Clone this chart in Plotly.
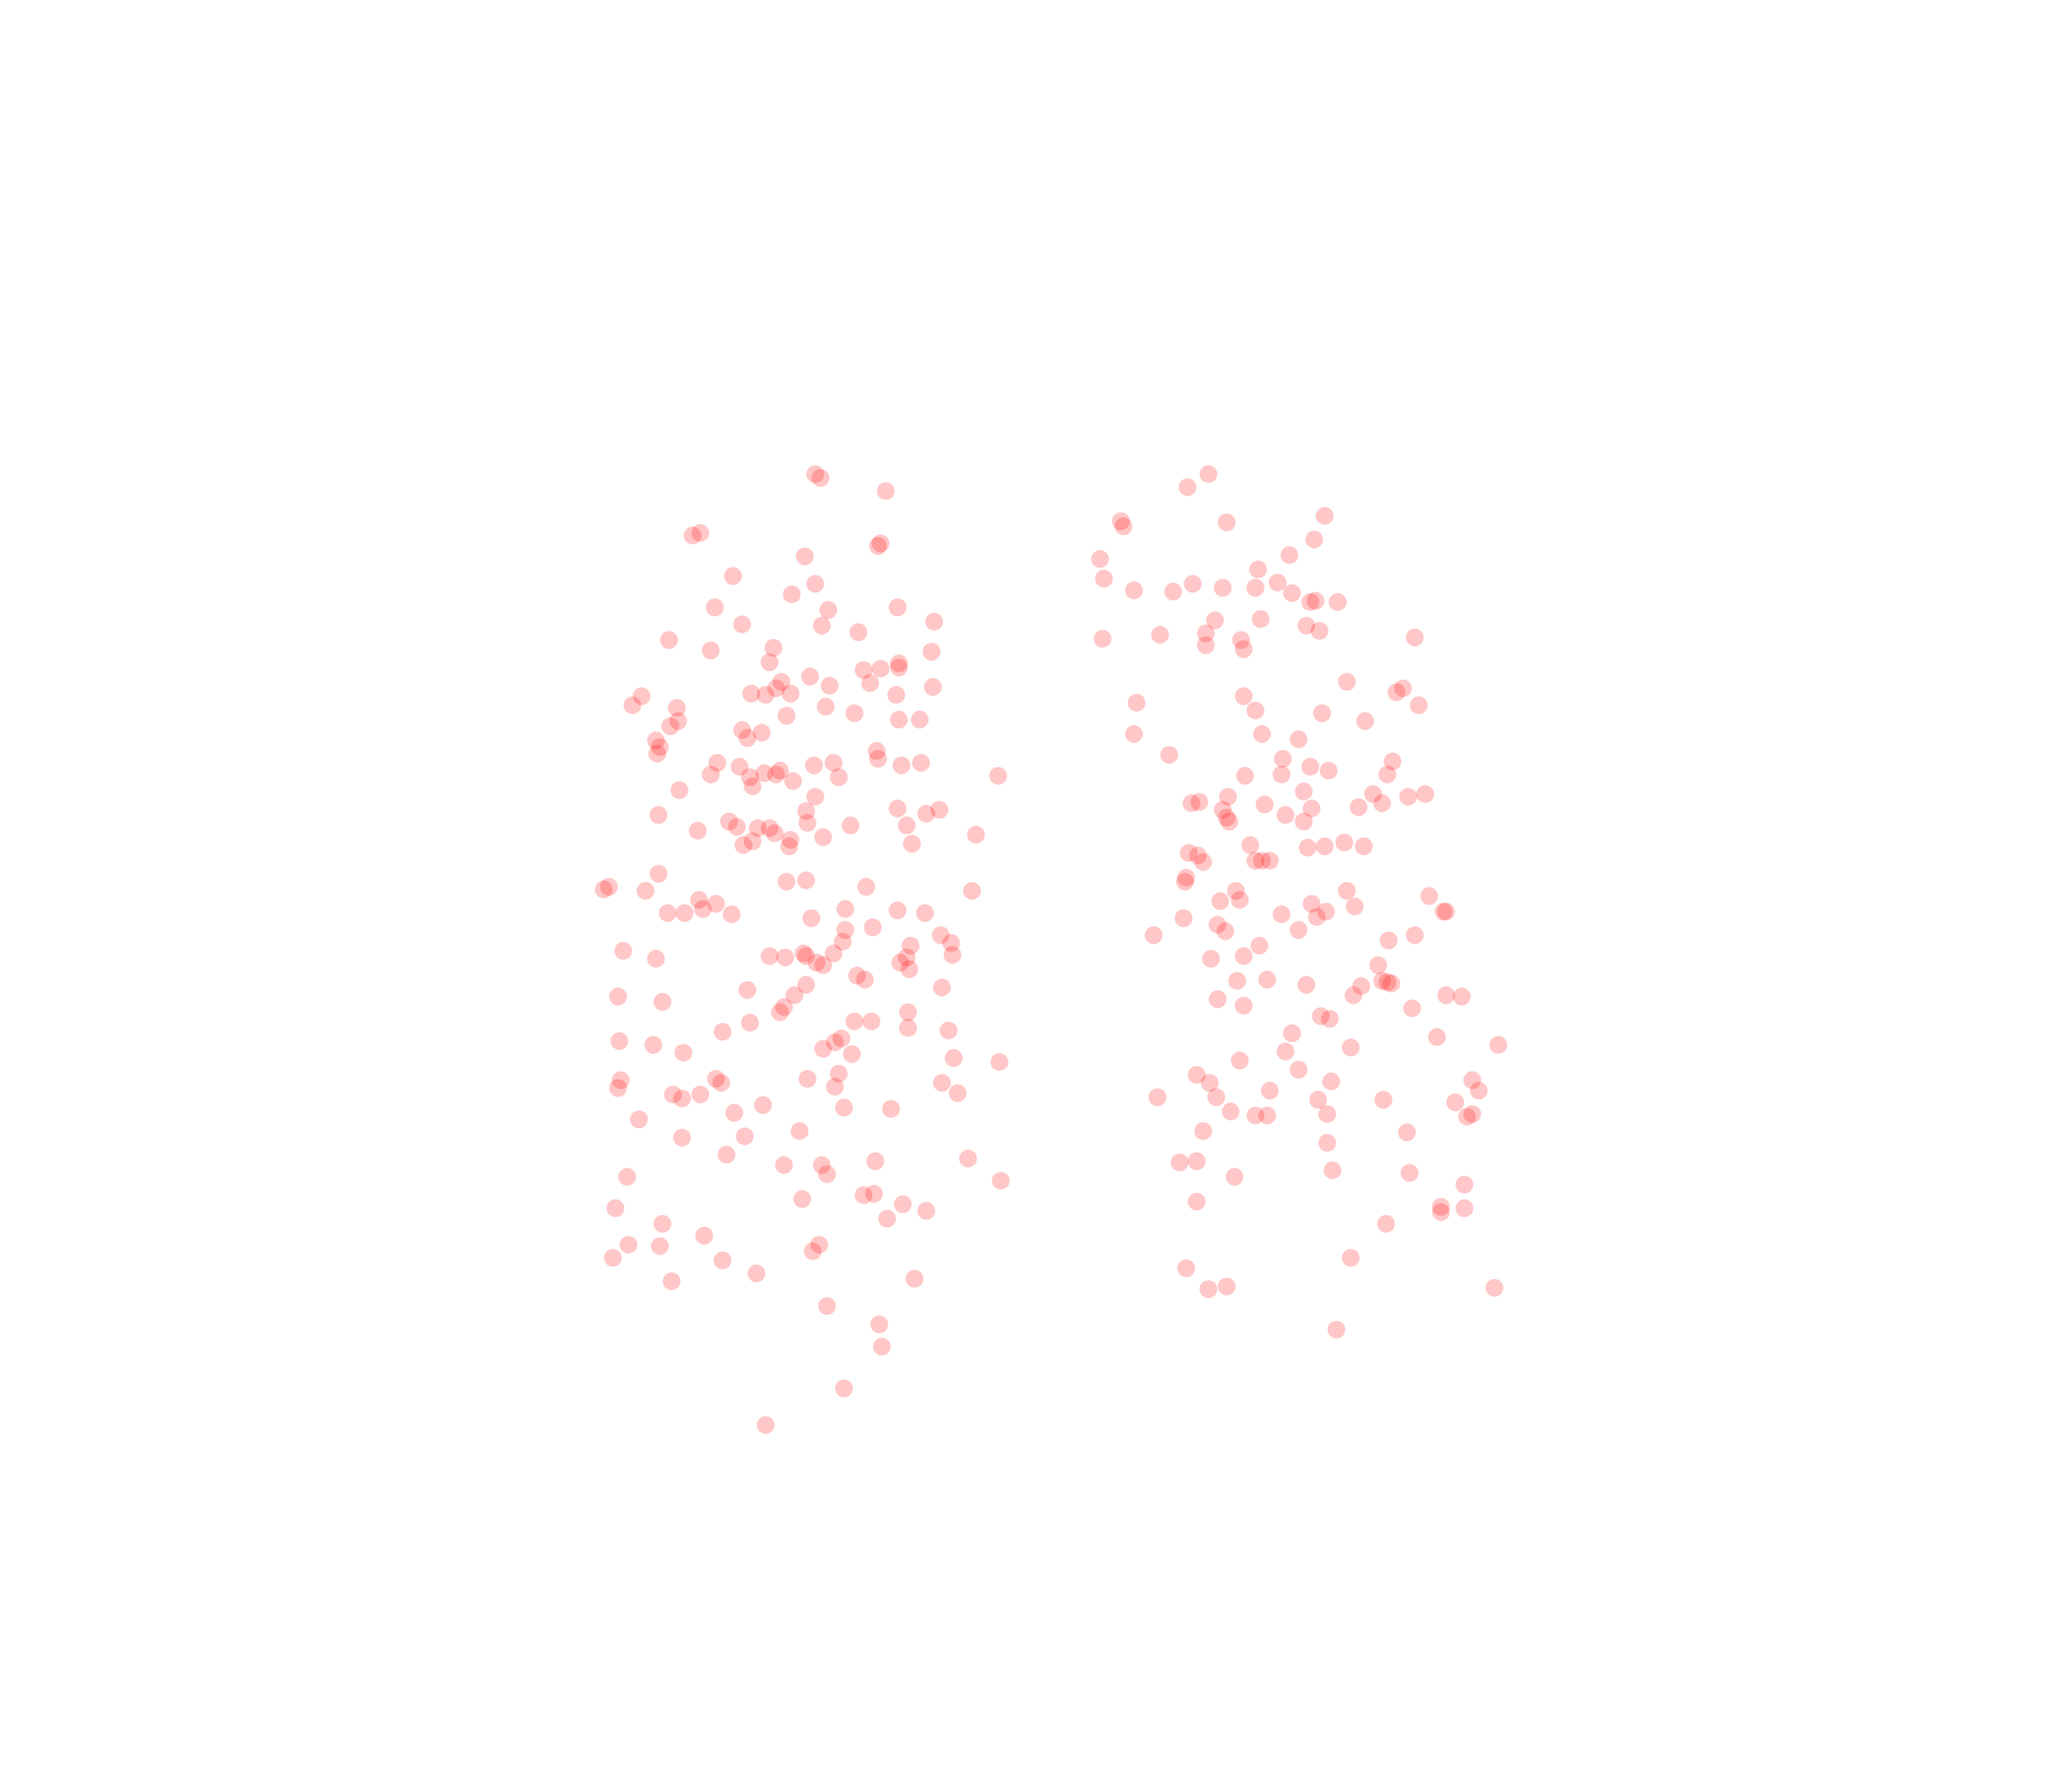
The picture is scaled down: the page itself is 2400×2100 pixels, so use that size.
import plotly.graph_objects as go

left_x = [624,628,678,536,530,674,672,616,561,624,606,547,634,687,568,629,715,657,512,544,592,713,589,661,674,688,688,620,598,594,575,586,605,635,666,714,686,491,484,518,632,654,602,688,704,519,513,568,572,583,502,505,503,671,672,638,623,566,549,544,574,585,597,594,607,576,642,690,705,764,520,624,617,504,687,709,719,558,564,580,589,593,618,651,694,534,747,605,569,576,604,630,698,504,602,617,663,462,466,494,744,535,548,511,524,538,560,647,687,708,621,668,647,720,645,728,697,477,589,601,615,617,625,630,638,694,689,729,696,502,656,662,617,721,572,473,507,608,600,597,695,574,654,667,695,726,553,474,500,523,644,639,630,652,730,765,642,475,473,548,552,618,639,721,733,515,522,536,584,646,682,562,489,612,570,522,556,600,629,670,741,633,480,766,614,661,669,691,709,679,471,507,539,627,622,481,505,469,553,579,514,700,633,673,675,646,586]
left_y = [363,366,376,408,410,416,418,426,441,447,455,465,467,465,478,479,476,484,490,498,496,499,507,513,512,508,511,518,522,527,531,532,531,525,523,526,532,533,540,542,541,546,548,551,551,552,556,559,565,561,567,572,577,575,581,584,586,587,584,593,595,592,590,593,598,602,595,586,584,594,605,610,621,624,619,623,620,629,633,634,634,638,630,632,632,636,639,643,647,644,648,641,646,669,675,674,679,681,679,682,682,689,692,699,699,696,700,696,697,699,703,710,712,716,721,722,724,728,732,733,730,732,737,739,730,733,737,731,742,734,747,750,754,756,758,763,767,762,771,775,775,783,782,782,787,789,790,797,800,806,795,798,803,807,810,813,822,827,833,826,829,826,832,829,837,838,841,838,846,848,849,852,857,866,870,871,884,892,892,889,887,899,901,904,918,915,914,922,927,933,925,937,946,953,958,953,954,963,965,975,981,979,1000,1014,1031,1063,1091]
right_x = [925,909,1014,858,860,939,1006,987,842,963,845,868,898,913,936,961,978,989,1003,1007,1024,930,965,1000,1010,844,888,923,923,950,952,1083,1031,870,952,961,1012,1069,1074,1086,1045,868,966,994,895,982,1066,1003,1017,953,981,1062,912,918,940,968,998,1051,1078,1091,1004,1040,1058,936,939,941,984,998,957,1001,1014,1029,1044,910,917,921,961,966,972,908,907,946,1031,1094,934,949,1004,1037,1107,1105,981,1015,1008,906,932,938,994,883,1083,1063,964,952,927,1055,947,970,1000,1042,1058,1062,1065,1036,1107,1119,932,952,1081,1011,1018,989,1100,1034,1147,984,949,994,916,926,1019,1127,1132,972,886,931,1009,1059,1114,942,961,970,1016,1123,1127,921,1077,1016,903,916,1020,1079,945,1121,916,1103,1103,1121,1061,1034,908,925,939,1144,1023]
right_y = [363,373,395,399,403,400,413,425,428,436,443,452,453,447,450,450,446,454,461,460,461,475,474,479,483,489,486,485,494,490,497,488,522,538,533,544,546,530,527,540,552,562,562,566,578,581,583,587,590,594,593,593,615,614,610,616,606,608,610,608,619,618,615,620,626,629,624,629,647,649,648,645,648,653,655,660,659,659,659,672,675,682,682,686,690,689,692,694,698,698,700,698,702,703,708,713,712,716,716,720,724,732,734,739,751,750,754,755,751,752,753,762,762,763,765,770,772,778,780,791,794,802,800,805,812,819,823,829,828,827,835,835,840,840,842,842,844,851,854,854,853,855,853,866,867,875,890,889,896,898,901,907,920,924,928,925,937,963,971,987,985,986,1018]

fig = go.Figure()
for xs, ys in ((left_x, left_y), (right_x, right_y)):
    fig.add_trace(go.Scatter(x=xs, y=ys, mode="markers", hoverinfo="skip",
                             marker=dict(size=21, color="rgb(255,0,0)", opacity=0.22, line=dict(width=0))))
fig.update_layout(width=2400, height=2100, margin=dict(l=0, r=0, t=0, b=0),
                  showlegend=False, paper_bgcolor="white", plot_bgcolor="white",
                  xaxis=dict(range=[-0.2, 1567.8], visible=False, fixedrange=True),
                  yaxis=dict(range=[1372, 0], visible=False, fixedrange=True))
fig.write_html("out.html", config=dict(displayModeBar=False),
               post_script="document.body.style.margin='0';")
